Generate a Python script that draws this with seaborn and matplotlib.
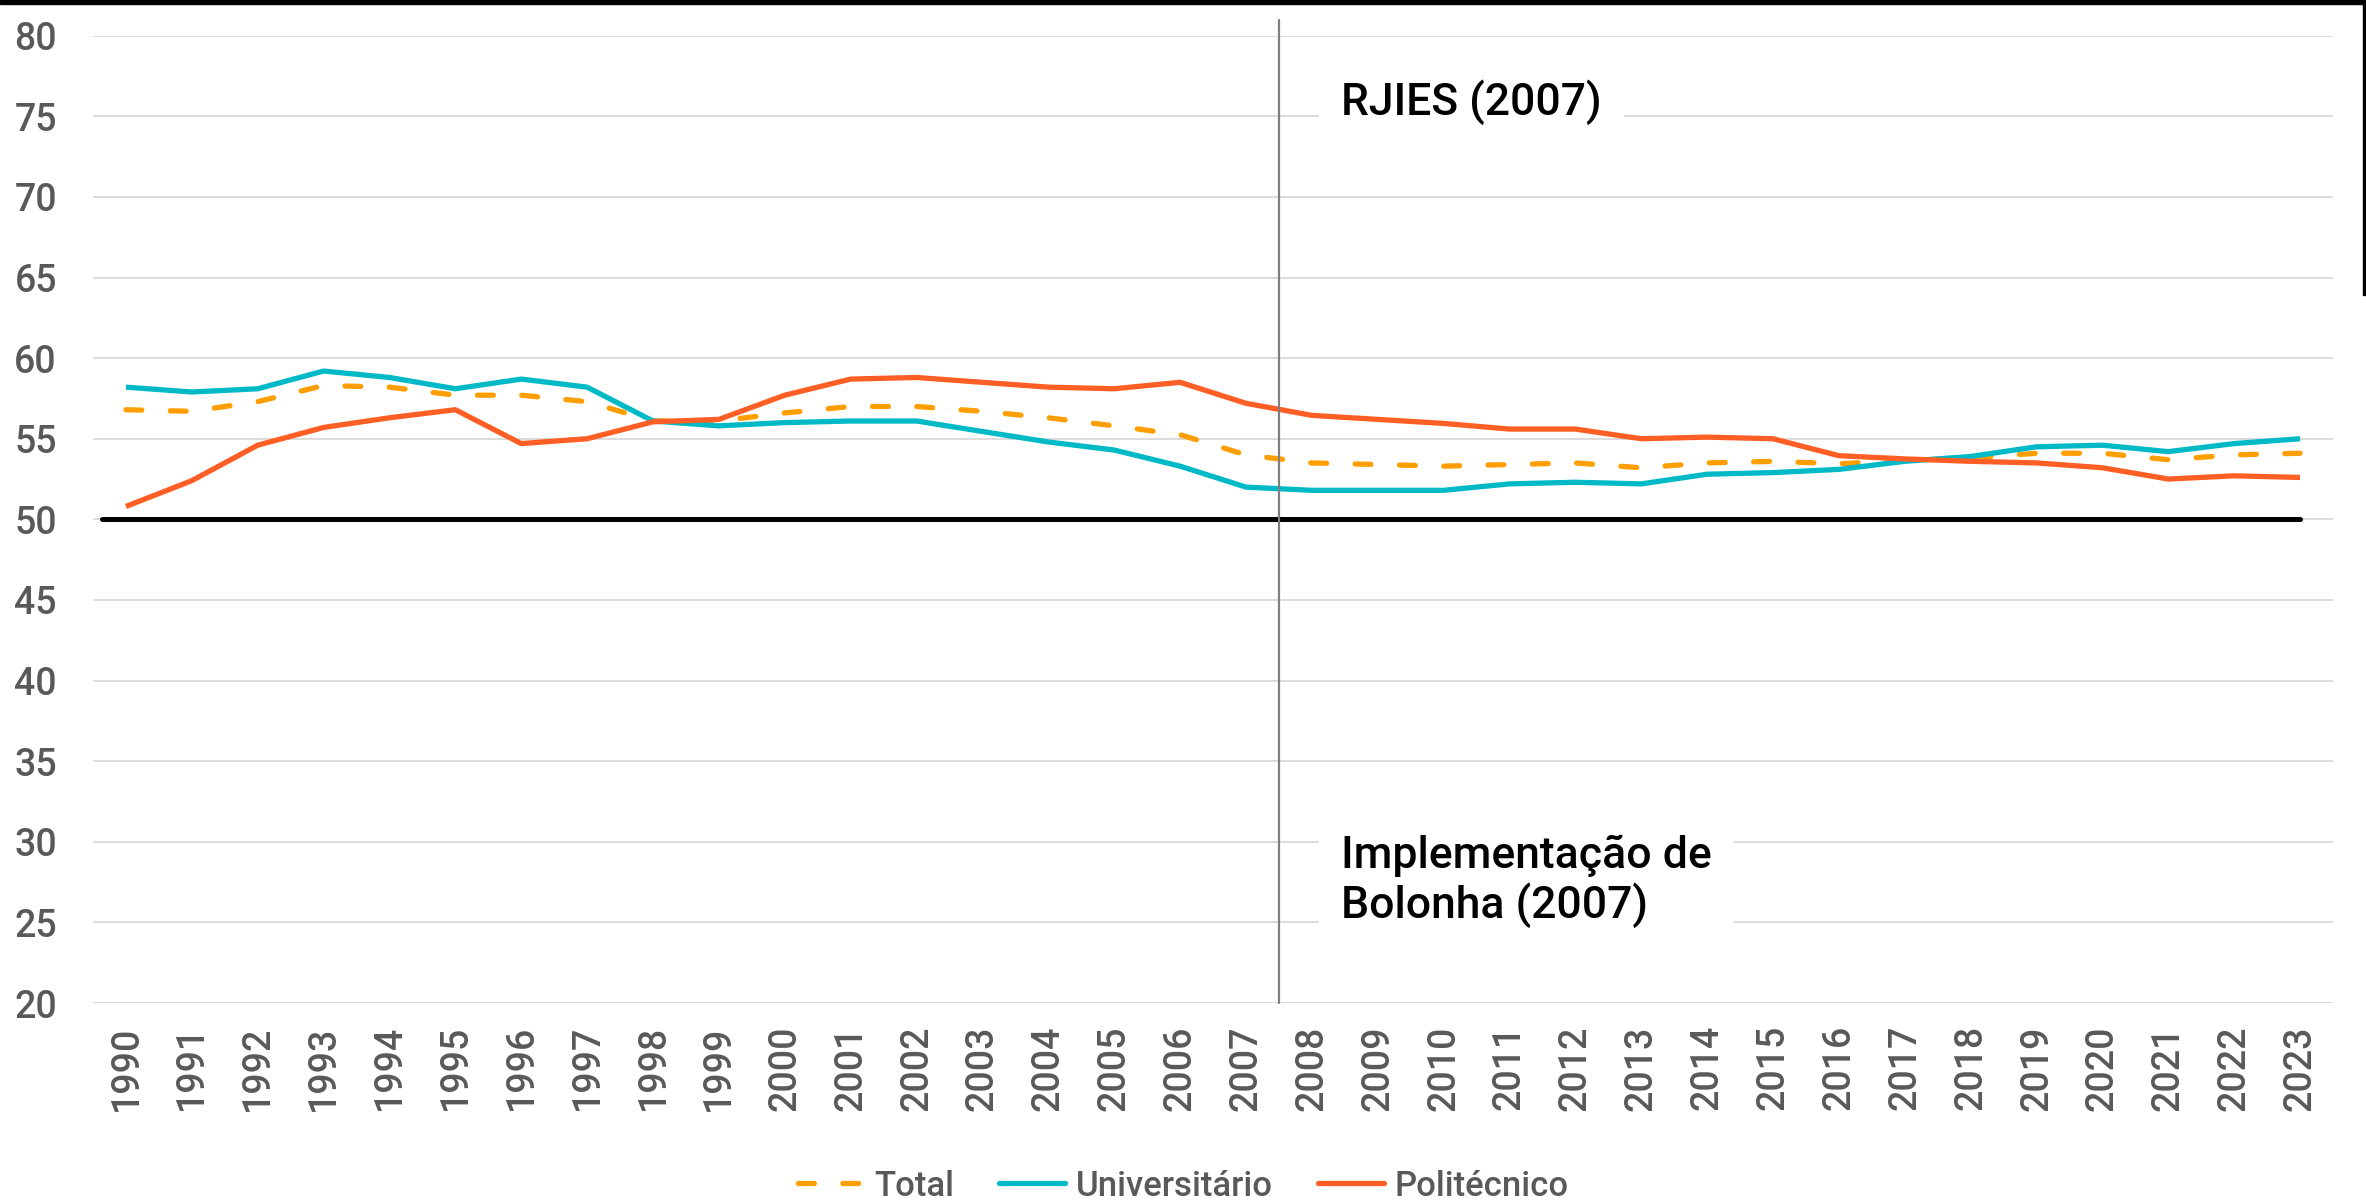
import matplotlib
matplotlib.use("Agg")
import matplotlib.pyplot as plt
from matplotlib.lines import Line2D
from matplotlib.patches import Rectangle
import seaborn as sns
import pandas as pd

years = list(range(1990, 2024))
total = [56.8, 56.7, 57.3, 58.3, 58.2, 57.7, 57.7, 57.3, 56.1, 56.1,
         56.6, 57.0, 57.0, 56.7, 56.3, 55.8, 55.25, 54.0, 53.5, 53.4,
         53.3, 53.4, 53.5, 53.2, 53.5, 53.6, 53.45, 53.65, 53.8, 54.1,
         54.1, 53.7, 54.0, 54.1]
universitario = [58.2, 57.9, 58.1, 59.2, 58.8, 58.1, 58.7, 58.2, 56.1, 55.8,
                 56.0, 56.1, 56.1, 55.45, 54.8, 54.3, 53.3, 52.0, 51.8, 51.8,
                 51.8, 52.2, 52.3, 52.2, 52.8, 52.9, 53.1, 53.6, 53.9, 54.5,
                 54.6, 54.2, 54.7, 55.0]
politecnico = [50.8, 52.4, 54.6, 55.7, 56.3, 56.8, 54.7, 55.0, 56.05, 56.2,
               57.7, 58.7, 58.8, 58.5, 58.2, 58.1, 58.5, 57.2, 56.45, 56.2,
               55.95, 55.6, 55.6, 55.0, 55.1, 55.0, 53.95, 53.75, 53.6, 53.5,
               53.2, 52.5, 52.7, 52.6]
series_names = ["Total", "Universitário", "Politécnico"]
colors = {"Total": "#FF9E00", "Universitário": "#00B9C6", "Politécnico": "#FF5E24"}
ref_value = 50
event_year = 2007.5
event_labels = ["RJIES (2007)", "Implementação de\nBolonha (2007)"]

df = pd.DataFrame({"ano": years * 3,
                   "valor": total + universitario + politecnico,
                   "serie": sum([[n] * len(years) for n in series_names], [])})

sns.set_style("white")
plt.rcParams['font.family'] = ['Roboto', 'DejaVu Sans']

W, H = 2366, 1203
fig = plt.figure(figsize=(W / 100, H / 100), dpi=100)
ax = fig.add_axes([93 / W, 1 - 1003 / H, (2333 - 93) / W, (1003 - 35.7) / H])

dash = (3.0, 5.4)
sns.lineplot(data=df, x="ano", y="valor", hue="serie", style="serie",
             hue_order=series_names, style_order=series_names,
             palette=colors, dashes={"Total": dash, "Universitário": "", "Politécnico": ""},
             linewidth=3.8, legend=False, ax=ax)
for line in ax.lines:
    line.set_dash_capstyle("round")
    line.set_solid_capstyle("butt")

# linha de referência nos 50%
ax.plot([years[0] - 0.36, years[-1]], [ref_value, ref_value], color="black", lw=3.6, zorder=1.5)

# linha vertical 2007
ax.plot([event_year, event_year], [20, 81], color="#7f7f7f", lw=1.6, clip_on=False, zorder=6)

ax.set_xlim(years[0] - 0.5, years[-1] + 0.5)
ax.set_ylim(20, 80)
ax.set_yticks(range(20, 81, 5))
ax.set_xticks(years)
ax.set_xticklabels([str(y) for y in years], rotation=90)
ax.yaxis.grid(True, color="#d9d9d9", lw=1.3)
ax.xaxis.grid(False)
ax.set_axisbelow(True)
for s in ax.spines.values():
    s.set_visible(False)
ax.tick_params(axis="y", length=0, pad=26, labelsize=27, labelcolor="#595959")
ax.tick_params(axis="x", length=0, pad=16, labelsize=27, labelcolor="#595959")
for lab in ax.get_xticklabels() + ax.get_yticklabels():
    lab.set_fontweight("medium")
ax.set_xlabel("")
ax.set_ylabel("")

box = dict(boxstyle="square,pad=0.5", fc="white", ec="none")
ax.text(2008.44, 75.85, event_labels[0], fontsize=32, fontweight="medium", color="black",
        ha="left", va="center", bbox=box, zorder=7)
ax.text(2008.44, 27.55, event_labels[1], fontsize=32, fontweight="medium", color="black",
        ha="left", va="center", linespacing=1.15, bbox=box, zorder=7)

handles = [Line2D([], [], color=colors["Total"], lw=3.8, dashes=dash, dash_capstyle="round"),
           Line2D([], [], color=colors["Universitário"], lw=3.8, solid_capstyle="round"),
           Line2D([], [], color=colors["Politécnico"], lw=3.8, solid_capstyle="round")]
leg = fig.legend(handles, series_names, loc="center", bbox_to_anchor=(0.5, 1 - 1186 / H),
                 ncol=3, frameon=False, fontsize=25, labelcolor="#595959",
                 handlelength=1.9, handletextpad=0.3, columnspacing=1.3)
for t in leg.get_texts():
    t.set_fontweight("medium")

# moldura preta no topo e à direita
fig.add_artist(Rectangle((0, 1 - 4 / H), 1, 4 / H, transform=fig.transFigure, color="black"))
fig.add_artist(Rectangle((1 - 3 / W, 1 - 295 / H), 3 / W, 295 / H, transform=fig.transFigure, color="black"))

fig.savefig("out.png", dpi=100, facecolor="white")
